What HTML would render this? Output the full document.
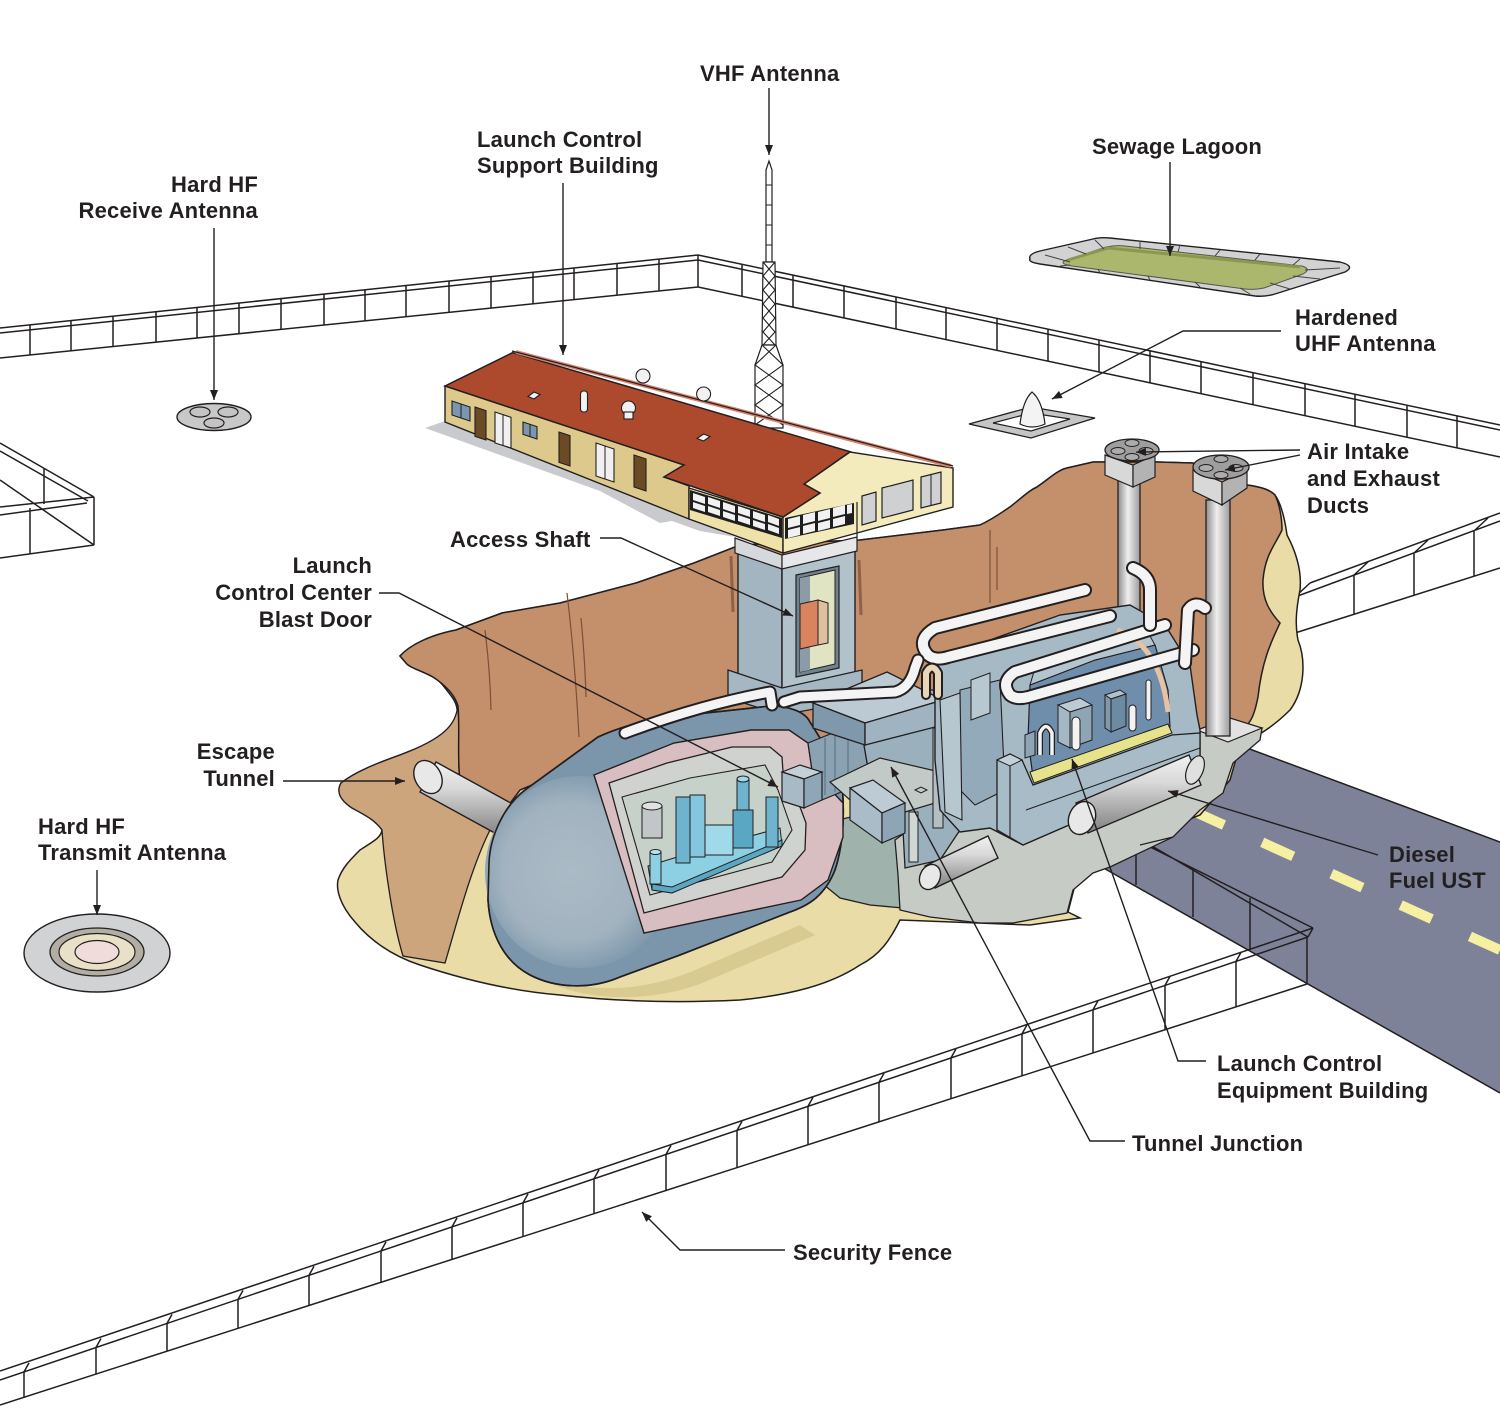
<!DOCTYPE html>
<html><head><meta charset="utf-8"><style>
html,body{margin:0;padding:0;background:#fff;}
svg{display:block;}
text{font-family:"Liberation Sans",Arial,sans-serif;font-weight:bold;font-size:22px;fill:#231f20;letter-spacing:0.2px;}
</style></head><body>
<svg width="1500" height="1428" viewBox="0 0 1500 1428" xmlns="http://www.w3.org/2000/svg">
<defs>
<linearGradient id="gv" x1="0" y1="0" x2="1" y2="0"><stop offset="0" stop-color="#8e8e8e"/><stop offset="0.45" stop-color="#efefef"/><stop offset="1" stop-color="#9c9c9c"/></linearGradient>
<linearGradient id="gh" x1="0" y1="0" x2="0" y2="1"><stop offset="0" stop-color="#f2f2f2"/><stop offset="0.35" stop-color="#d9d9d9"/><stop offset="1" stop-color="#808080"/></linearGradient>
<radialGradient id="gd" cx="0.45" cy="0.5" r="0.55"><stop offset="0" stop-color="#abbbc6"/><stop offset="0.65" stop-color="#a2b3bf"/><stop offset="1" stop-color="#7b96ab"/></radialGradient>
<marker id="ar" viewBox="0 0 10 8" refX="10" refY="4" markerWidth="10" markerHeight="8" orient="auto" markerUnits="userSpaceOnUse"><path d="M0,0 L10,4 L0,8 Z" fill="#231f20"/></marker>
</defs>

<!-- Back fences -->
<g stroke="#231f20" stroke-width="1.5" fill="none">
<path d="M0,328 L698,255 M0,333 L698,260 M0,358 L698,287"/>
<path d="M30,325V355 M71,320.6V350.8 M113,316.2V346.5 M156,311.7V342.1 M197,307.4V338 M239,303V333.7 M281,298.6V329.4 M324,294.1V325 M365,289.8V320.9 M406,285.5V316.7 M449,281V312.3 M491,276.7V308.1 M533,272.3V303.8 M574,268V299.6 M617,263.5V295.2 M659,259.1V291 M698,255V287"/>
<path d="M698,255 L1500,425 M698,260 L1500,430 M698,287 L1500,457"/>
<path d="M742,264.3V296.3 M793,275.1V307.1 M844,286V318 M896,297V329 M946,307.6V339.6 M997,318.4V350.4 M1048,329.2V361.2 M1099,340V372 M1150,350.8V382.8 M1201,361.6V393.6 M1253,372.7V404.7 M1305,383.7V415.7 M1355,394.3V426.3 M1407,405.3V437.3 M1457,415.9V447.9"/>
<path d="M0,443 L94,497 M0,451 L88,501 M0,480 L94,545 M0,507 L94,497 M0,515 L87,503 M0,558 L94,545 M94,497V545 M30,508V554 M44,468V504"/>
<path d="M1295,597 L1500,521 M1310,583 L1500,513 M1295,633 L1500,568 M1295,597V633 M1354,575V614 M1414,553V595 M1474,531V576 M1295,597 L1310,583 M1354,575 L1368,562 M1414,553 L1428,540 M1474,531 L1488,518"/>
</g>

<!-- Lagoon -->
<path d="M1030,259 Q1028,254 1040,251 L1093,239 Q1100,237 1110,238 L1340,262 Q1356,266 1345,272 L1275,294 Q1265,297 1255,296 L1040,264 Q1028,262 1030,259 Z" fill="#d2d2d2" stroke="#231f20" stroke-width="1.4"/>
<path d="M1064,261 L1106,247 Q1115,245 1125,246 L1302,266 Q1312,269 1303,274 L1264,288 Q1255,290 1245,289 L1072,266 Q1060,264 1064,261 Z" fill="#abb76d" stroke="#555" stroke-width="1"/>
<path d="M1068,260 L1108,248 L1300,267" stroke="#8a984f" stroke-width="3" fill="none"/>
<g stroke="#444" stroke-width="1"><path d="M1045,255 L1070,262 M1068,247 L1086,254 M1095,240 L1104,249 M1140,241 L1140,249 M1180,245 L1178,252 M1220,250 L1215,256 M1260,254 L1255,260 M1300,259 L1293,265 M1340,268 L1305,270 M1320,279 L1293,276 M1290,289 L1270,283 M1250,294 L1240,288 M1200,287 L1195,282 M1150,280 L1148,276 M1100,273 L1098,269 M1060,266 L1070,265"/></g>

<!-- Antennas -->
<ellipse cx="214" cy="417" rx="37" ry="13.5" fill="#c8c8c8" stroke="#231f20" stroke-width="1.4"/>
<ellipse cx="200" cy="412" rx="10" ry="5" fill="#c4c4c4" stroke="#231f20" stroke-width="1.2"/>
<ellipse cx="228" cy="412" rx="10" ry="5" fill="#c4c4c4" stroke="#231f20" stroke-width="1.2"/>
<ellipse cx="214" cy="423" rx="10" ry="5" fill="#c4c4c4" stroke="#231f20" stroke-width="1.2"/>

<polygon points="969,424 1031,407 1095,418 1031,438" fill="#c5c5c5" stroke="#231f20" stroke-width="1.3"/>
<polygon points="993,423 1031,413 1070,419 1031,431" fill="#fff" stroke="#231f20" stroke-width="1.2"/>
<path d="M1020,424 Q1023,400 1032,392 Q1042,400 1045,424 Q1032,430 1020,424 Z" fill="#f3f3f3" stroke="#231f20" stroke-width="1.2"/>

<ellipse cx="97" cy="953" rx="73" ry="39" fill="#d1d2d4" stroke="#231f20" stroke-width="1.4"/>
<ellipse cx="97" cy="952" rx="47" ry="24" fill="#b3aea3" stroke="#231f20" stroke-width="1.3"/>
<ellipse cx="97" cy="952" rx="38" ry="18.5" fill="#e9e0c8" stroke="#231f20" stroke-width="1.2"/>
<ellipse cx="97" cy="952" rx="22" ry="11.5" fill="#f1dcdc" stroke="#231f20" stroke-width="1.2"/>

<!-- Road -->
<polygon points="1212,735 1500,842 1500,1093 1100,866 1130,830" fill="#7e8299"/>
<path d="M1212,735 L1500,842 M1100,866 L1500,1093" stroke="#231f20" stroke-width="1.5" fill="none"/>
<line x1="1193" y1="811" x2="1500" y2="950" stroke="#f6f1a2" stroke-width="10" stroke-dasharray="34 42"/>
<g stroke="#231f20" stroke-width="1.5" fill="none">
<path d="M1122,833 L1313,928 M1138,838 L1308,937 M1136,842V885 M1193,869V917 M1250,898V950"/>
</g>

<!-- Excavation silhouette (pale tan) -->
<path d="M400,656 C410,645 430,635 456,630 L502,613 L560,603 L636,583 L694,563 L740,545 L860,540 L943,530 L980,525 C995,518 1005,510 1010,507 C1025,495 1030,490 1037,487 C1050,478 1058,470 1067,468 L1093,462 L1157,462 L1193,463 L1247,485 C1262,487 1270,490 1275,495 C1282,505 1285,520 1287,535 C1295,550 1302,570 1300,590 C1296,610 1295,625 1298,640 C1306,660 1305,690 1290,710 C1275,725 1260,735 1240,745 L1230,780 L1200,815 L1150,835 L1100,866 L1075,885 L1068,912 L1080,918 L1030,925 L900,920 C890,940 880,955 860,965 C830,985 790,995 740,1000 C680,1003 620,1002 560,995 C500,990 450,975 420,965 C390,955 370,940 355,922 C340,905 336,890 338,880 C342,868 350,860 360,850 C372,842 381,838 382,830 C375,820 365,815 352,808 C340,800 336,792 341,783 C355,772 375,764 400,755 C425,745 445,738 452,730 C460,715 458,705 452,697 C445,688 440,680 433,677 C420,670 410,668 406,663 Z" fill="#e9dca6" stroke="#231f20" stroke-width="1.5"/>
<!-- light brown cut face -->
<path d="M458,706 C455,725 445,738 400,755 C375,764 355,772 341,783 C336,792 340,800 352,808 C365,815 375,820 382,830 C384,860 392,920 403,956 L445,963 C455,930 470,870 490,830 C475,815 462,800 460,780 C457,760 460,730 458,706 Z" fill="#cda57d" stroke="#231f20" stroke-width="1.3"/>
<!-- dark brown earth -->
<path d="M400,656 C410,645 430,635 456,630 L502,613 L560,603 L636,583 L694,563 L740,545 L860,540 L943,530 L980,525 C995,518 1005,510 1010,507 C1025,495 1030,490 1037,487 C1050,478 1058,470 1067,468 L1093,462 L1157,462 L1193,463 L1247,485 C1262,487 1270,490 1275,495 C1280,505 1282,520 1282,530 C1275,545 1265,555 1263,580 C1262,600 1270,612 1280,623 C1272,640 1262,660 1258,697 C1255,712 1252,720 1247,725 L1100,760 L820,760 L640,740 L520,790 L490,830 C475,815 462,800 460,780 C457,760 460,730 458,706 C455,695 445,685 433,677 C420,670 410,668 406,663 Z" fill="#c3906b" stroke="#231f20" stroke-width="1.5"/>
<g stroke="#7a5038" stroke-width="1.2" fill="none">
<path d="M485,630 Q490,670 491,710 M567,593 Q575,660 579,737 M581,618 Q585,660 586,697 M990,530 L990,603 M997,547 L997,590"/>
</g>
<path d="M731,556 L733,612 M859,560 L861,615" stroke="#8d6248" stroke-width="3"/>

<!-- shadow under capsule -->
<path d="M505,950 C560,1000 640,995 700,968 L800,925 L815,935 L700,984 C640,1006 550,1004 505,950 Z" fill="#d9ca92"/>

<!-- Junction dark base -->
<polygon points="815,825 860,815 905,830 898,870 903,908 870,905 840,898 818,880" fill="#9fb2ac" stroke="#231f20" stroke-width="1.3"/>

<!-- Gray base -->
<path d="M895,840 L898,875 L900,910 L930,917 L980,923 L1013,923 L1067,913 L1073,890 L1093,873 L1110,867 L1173,837 L1200,810 L1223,793 L1233,763 L1260,740 L1262,728 L1235,722 L1100,760 L950,800 Z" fill="#c6ccc5" stroke="#231f20" stroke-width="1.3"/>
<path d="M1140,845 L1173,837" stroke="#231f20" stroke-width="1.2"/>

<!-- Air ducts -->
<rect x="1118" y="480" width="22" height="160" fill="url(#gv)" stroke="#231f20" stroke-width="1.3"/>
<polygon points="1197,730 1230,718 1262,728 1228,742" fill="#e2e2e2" stroke="#231f20" stroke-width="1.2"/>
<rect x="1206" y="500" width="24" height="236" fill="url(#gv)" stroke="#231f20" stroke-width="1.3"/>
<polygon points="1105,455 1133,465 1133,487 1105,475" fill="#d8d8d8" stroke="#231f20" stroke-width="1.2"/>
<polygon points="1133,465 1155,455 1155,477 1133,487" fill="#b3b3b3" stroke="#231f20" stroke-width="1.2"/>
<ellipse cx="1132" cy="450" rx="27" ry="11" fill="#9e9e9e" stroke="#231f20" stroke-width="1.3"/>
<g fill="#acacac" stroke="#231f20" stroke-width="1"><ellipse cx="1132" cy="443" rx="7" ry="3.5"/><ellipse cx="1118" cy="451" rx="7" ry="3.5"/><ellipse cx="1146" cy="451" rx="7" ry="3.5"/><ellipse cx="1132" cy="457" rx="7" ry="3.5"/></g>
<polygon points="1193,470 1222,482 1222,505 1193,491" fill="#d8d8d8" stroke="#231f20" stroke-width="1.2"/>
<polygon points="1222,482 1247,470 1247,488 1222,505" fill="#b3b3b3" stroke="#231f20" stroke-width="1.2"/>
<ellipse cx="1221" cy="467" rx="28" ry="12" fill="#9e9e9e" stroke="#231f20" stroke-width="1.3"/>
<g fill="#acacac" stroke="#231f20" stroke-width="1"><ellipse cx="1221" cy="459" rx="7" ry="3.5"/><ellipse cx="1206" cy="468" rx="7" ry="3.5"/><ellipse cx="1236" cy="468" rx="7" ry="3.5"/><ellipse cx="1221" cy="475" rx="7" ry="3.5"/></g>

<!-- VHF Tower -->
<g stroke="#231f20" stroke-width="1.2" fill="#fff">
<path d="M766,170 L769,161 L772,170 L772,262 L766,262 Z"/>
<polygon points="763,262 775,262 776,345 762,345"/>
<polygon points="762,345 776,345 783,365 783,428 755,428 755,365"/>
</g>
<g stroke="#231f20" stroke-width="1.1" fill="none">
<path d="M766,185H772 M766,205H772 M766,225H772 M766,245H772"/>
<path d="M763,262 L775,276 L763,290 L775,304 L763,318 L775,332 L763,345 M775,262 L763,276 L775,290 L763,304 L775,318 L763,332 L775,345"/>
<path d="M762,345 L783,365 L755,385 L783,405 L755,425 M776,345 L755,365 L783,385 L755,405 L783,425"/>
</g>

<!-- Access shaft -->
<polygon points="738,548 782,565 782,690 738,676" fill="#a2b5c1" stroke="#231f20" stroke-width="1.4"/>
<polygon points="782,565 855,548 855,676 782,690" fill="#b2c2cb" stroke="#231f20" stroke-width="1.4"/>
<polygon points="728,670 782,688 862,670 862,700 782,715 728,698" fill="#a5b7c2" stroke="#231f20" stroke-width="1.3"/>
<polygon points="735,538 782,555 782,569 735,553" fill="#d6d9db" stroke="#231f20" stroke-width="1.2"/>
<polygon points="782,555 857,537 857,551 782,569" fill="#e6e7e8" stroke="#231f20" stroke-width="1.2"/>
<polygon points="796,575 839,566 839,668 796,677" fill="#6e8290" stroke="#231f20" stroke-width="1.2"/>
<polygon points="800,578 835,570 835,664 800,672" fill="#e1e4c2" stroke="#231f20" stroke-width="1"/>
<polygon points="800,578 810,576 810,670 800,672" fill="#8c9ca7"/>
<polygon points="800,604 818,600 818,645 800,649" fill="#d9835f" stroke="#231f20" stroke-width="1"/>
<polygon points="818,600 828,603 828,643 818,645" fill="#dcc0a0" stroke="#231f20" stroke-width="1"/>

<!-- Building shadow -->
<polygon points="425,428 445,421 689,518 735,537 700,531 672,521 660,523 600,491" fill="#c9cacd"/>
<!-- Building -->
<polygon points="445,386 684,465 664,477 689,486 689,519 445,422" fill="#dcc98b" stroke="#231f20" stroke-width="1.4"/>
<polygon points="689,488 783,517 783,553 689,519" fill="#efe2a8" stroke="#231f20" stroke-width="1.4"/>
<polygon points="783,517 820,493 804,484 850,452 953,468 953,507 783,553" fill="#f4ebbd" stroke="#231f20" stroke-width="1.4"/>
<path d="M857,502 V537" stroke="#231f20" stroke-width="1.2"/>
<polygon points="690,490 782,518 782,538 690,510" fill="#1e1e1e"/>
<g fill="#f1f1f1">
<polygon points="693,493 705,497 705,504 693,500"/><polygon points="708,497 720,501 720,508 708,504"/><polygon points="723,502 735,506 735,513 723,509"/><polygon points="738,506 750,510 750,517 738,513"/><polygon points="753,511 765,515 765,522 753,518"/><polygon points="768,515 779,519 779,526 768,522"/>
<polygon points="693,502 705,506 705,512 693,508"/><polygon points="708,506 720,510 720,516 708,512"/><polygon points="723,511 735,515 735,521 723,517"/><polygon points="738,515 750,519 750,525 738,521"/><polygon points="753,520 765,524 765,530 753,526"/><polygon points="768,524 779,528 779,534 768,530"/>
</g>
<polygon points="785,518 854,503 854,524 785,539" fill="#1e1e1e"/>
<g fill="#f1f1f1">
<polygon points="788,519 800,516 800,525 788,528"/><polygon points="803,515 815,512 815,521 803,524"/><polygon points="818,512 830,509 830,518 818,521"/><polygon points="833,508 845,505 845,514 833,517"/><polygon points="847,505 852,504 852,513 847,514"/>
<polygon points="788,530 800,527 800,535 788,538"/><polygon points="803,526 815,523 815,531 803,534"/><polygon points="818,523 830,520 830,528 818,531"/><polygon points="833,519 845,516 845,524 833,527"/>
</g>
<polygon points="862,496 876,492 876,521 862,525" fill="#d0d1d3" stroke="#231f20" stroke-width="1.2"/>
<polygon points="882,488 913,480 913,510 882,518" fill="#cfd0d2" stroke="#231f20" stroke-width="1.2"/>
<polygon points="921,477 941,472 941,503 921,508" fill="#d0d1d3" stroke="#231f20" stroke-width="1.2"/>
<path d="M931,475 V506" stroke="#231f20" stroke-width="1"/>
<!-- roof -->
<polygon points="445,386 512.5,352.7 850,451.7 804,484 820,493 783,517 664,477 684,465" fill="#ad4a2e" stroke="#231f20" stroke-width="1.5"/>
<path d="M516,352 L951,466" stroke="#d6826d" stroke-width="4"/>
<path d="M512,351 L953,466" stroke="#231f20" stroke-width="1.2"/>
<!-- front wall doors/windows -->
<g stroke="#231f20" stroke-width="1.1">
<polygon points="452,401 470,407 470,421 452,415" fill="#7b97ad"/>
<polygon points="475,407 486,410.6 486,440 475,436.4" fill="#6b4a26"/>
<polygon points="495,412 511,417.3 511,448 495,443" fill="#f0f0f0"/>
<polygon points="523,422 537,426.6 537,439 523,434.4" fill="#7b97ad"/>
<polygon points="559,432 570,435.6 570,466 559,462.4" fill="#6b4a26"/>
<polygon points="596,443 614,449 614,482 596,476" fill="#f0f0f0"/>
<polygon points="634,455 646,459 646,491 634,487" fill="#6b4a26"/>
</g>
<path d="M461,404V418 M503,414.5V445.5 M530,424V437 M605,446V479" stroke="#231f20" stroke-width="1"/>
<!-- roof details -->
<g stroke="#231f20" stroke-width="1.1" fill="#f1f1f1">
<polygon points="534,392 540,394.5 534,399 528,396.5"/>
<polygon points="703.6,434 710,436.5 703.6,441 697,438.5"/>
<rect x="580.5" y="391" width="7" height="21" rx="3"/>
<circle cx="628.5" cy="408" r="7"/><rect x="624" y="412" width="9" height="7"/>
<circle cx="643" cy="376" r="7"/>
<circle cx="703.6" cy="394" r="7"/>
</g>

<!-- Escape tunnel -->
<polygon points="436,762 518,807 502,837 420,792" fill="url(#gh)" stroke="#231f20" stroke-width="1.4"/>
<ellipse cx="428" cy="777" rx="13" ry="17.5" transform="rotate(-29 428 777)" fill="#e8e8e8" stroke="#231f20" stroke-width="1.4"/>

<!-- Capsule -->
<path d="M489,863 C490,835 505,805 525,790 L598,737 C620,727 640,722 660,718 L770,706 C790,706 805,712 810,722 L840,770 C845,800 845,840 835,870 C825,895 810,905 790,912 L680,955 L620,977 C590,990 555,988 530,975 C505,962 490,935 488,900 Z" fill="#7b96ab" stroke="#231f20" stroke-width="1.6"/>
<ellipse cx="580" cy="872" rx="95" ry="96" fill="url(#gd)"/>
<path d="M489,863 C490,835 505,805 525,790 L598,737 C620,727 640,722 660,718 L770,706 C790,706 805,712 810,722 L840,770 C845,800 845,840 835,870 C825,895 810,905 790,912 L680,955 L620,977 C590,990 555,988 530,975 C505,962 490,935 488,900 Z" fill="none" stroke="#231f20" stroke-width="1.6"/>
<polygon points="594,775 674,743 751,730 789,730 808,743 812,770 843,803 843,837 828,880 801,900 644,933" fill="#d8bec0" stroke="#231f20" stroke-width="1.4"/>
<polygon points="609,783 667,763 732,747 770,747 782,757 783,772 800,807 806,823 805,850 782,877 644,913" fill="#d0d2cf" stroke="#231f20" stroke-width="1.3"/>
<polygon points="622,797 690,778 765,765 778,790 792,830 772,862 650,895" fill="#c6d2c9" stroke="#231f20" stroke-width="1.1"/>
<!-- equipment -->
<g stroke="#231f20" stroke-width="1">
<polygon points="648,866 700,850 780,828 782,845 672,893 652,890" fill="#8dd0e3"/>
<polygon points="652,884 672,887 782,840 782,846 672,893 652,890" fill="#5aa7c4"/>
<rect x="642" y="806" width="20" height="32" fill="#c2c6c8"/><ellipse cx="652" cy="806" rx="10" ry="4" fill="#dfe1e2"/>
<rect x="676" y="797" width="14" height="66" fill="#6fb4cf"/>
<rect x="690" y="795" width="15" height="62" fill="#86c6dc"/>
<rect x="705" y="825" width="28" height="30" fill="#9fd9ea"/>
<rect x="737" y="779" width="12" height="56" fill="#6fb4cf"/><ellipse cx="743" cy="779" rx="6" ry="3" fill="#9fd9ea"/>
<rect x="733" y="810" width="20" height="38" fill="#5aa7c4"/>
<rect x="766" y="797" width="12" height="50" fill="#6fb4cf"/>
<rect x="650" y="852" width="11" height="32" fill="#8dd0e3"/><ellipse cx="655.5" cy="852" rx="5.5" ry="2.5" fill="#b5e3ef"/>
</g>

<!-- Junction tunnel and blocks -->
<polygon points="808,743 860,722 870,780 822,800 812,770" fill="#8aa2b2" stroke="#231f20" stroke-width="1.2"/>
<path d="M825,738V795 M835,734V792 M848,728V787" stroke="#6f8899" stroke-width="2"/>
<g stroke="#231f20" stroke-width="1.2">
<polygon points="782,772 800,765 822,772 804,779" fill="#c2d0d8"/>
<polygon points="782,772 804,779 804,808 782,801" fill="#a7bac6"/>
<polygon points="804,779 822,772 822,800 804,808" fill="#8ea6b6"/>
</g>
<!-- junction mass -->
<polygon points="860,722 887,690 943,690 960,700 960,830 940,860 905,868 903,830 860,815 870,780" fill="#9bb0bd" stroke="#231f20" stroke-width="1.3"/>
<polygon points="813,703 887,672 943,700 865,723" fill="#bccbd3" stroke="#231f20" stroke-width="1.3"/>
<polygon points="813,703 865,723 865,745 813,728" fill="#7f98ab" stroke="#231f20" stroke-width="1.3"/>
<polygon points="865,723 943,700 943,725 865,745" fill="#9fb3c0" stroke="#231f20" stroke-width="1.3"/>
<polygon points="830,782 880,758 940,772 945,800 905,812 850,800" fill="#c2cac8" stroke="#231f20" stroke-width="1.2"/>
<polygon points="915,790 921,787 927,790 921,793" fill="none" stroke="#231f20" stroke-width="1"/>
<polygon points="850,788 873,780 905,803 882,813" fill="#bdccd4" stroke="#231f20" stroke-width="1.2"/>
<polygon points="850,788 882,813 882,843 850,820" fill="#a9bcc8" stroke="#231f20" stroke-width="1.2"/>
<polygon points="882,813 905,803 905,833 882,843" fill="#8ea5b5" stroke="#231f20" stroke-width="1.2"/>
<rect x="909" y="812" width="9" height="50" fill="#d0d6d3" stroke="#231f20" stroke-width="1"/>
<rect x="933" y="728" width="10" height="100" fill="#b3bfc2" stroke="#231f20" stroke-width="1"/>

<!-- LCEB -->
<polygon points="935,665 990,640 1060,615 1130,605 1165,625 1190,665 1197,715 1200,730 1200,768 1023,845 990,828 960,832 940,810 935,760" fill="#a6bac6" stroke="#231f20" stroke-width="1.4"/>
<polygon points="1030,685 1095,660 1155,645 1168,690 1170,727 1033,777 1028,740" fill="#6f8eab" stroke="#231f20" stroke-width="1.2"/>
<polygon points="1030,685 1035,668 1100,645 1150,636 1155,645 1095,660" fill="#b3c5cf" stroke="#231f20" stroke-width="1"/>
<path d="M1117,630 Q1160,645 1168,712" stroke="#e7c2a3" stroke-width="5" fill="none"/>
<polygon points="960,690 1000,680 1005,790 975,805 960,790" fill="#93aabb" stroke="#231f20" stroke-width="1.1"/>
<polygon points="940,700 960,693 962,820 945,812" fill="#b7c7d0" stroke="#231f20" stroke-width="1.1"/>
<polygon points="971,680 990,673 990,713 971,720" fill="#b7c8d1" stroke="#231f20" stroke-width="1"/>
<polygon points="1030,772 1168,724 1172,733 1034,783" fill="#e6e38c" stroke="#231f20" stroke-width="1"/>
<polygon points="997,760 1010,754 1022,760 1033,785 1172,735 1200,733 1200,768 1023,845 997,830" fill="#a8bcc7" stroke="#231f20" stroke-width="1.3"/>
<polygon points="997,760 1010,754 1022,760 1010,766" fill="#c2d1d9" stroke="#231f20" stroke-width="1"/>
<path d="M1026,810 L1200,748 M1010,766 V838" stroke="#231f20" stroke-width="1.1"/>
<g stroke="#231f20" stroke-width="1">
<polygon points="1058,705 1080,698 1092,705 1070,712" fill="#bccbd3"/>
<polygon points="1058,705 1070,712 1070,748 1058,742" fill="#a3b7c4"/>
<polygon points="1070,712 1092,705 1092,740 1070,748" fill="#8ea5b5"/>
<polygon points="1105,695 1120,690 1126,694 1111,699" fill="#b0c2cc"/>
<polygon points="1105,695 1111,699 1111,732 1105,728" fill="#7f98ab"/>
<polygon points="1111,699 1126,694 1126,726 1111,732" fill="#6d8aa3"/>
<polygon points="1025,735 1035,731 1035,755 1025,758" fill="#8ea5b5"/>
<rect x="1072" y="717" width="8" height="33" rx="4" fill="#f3f3f3"/>
<rect x="1129" y="705" width="7" height="26" rx="3.5" fill="#f3f3f3"/>
<rect x="1146" y="680" width="5" height="40" rx="2.5" fill="#f3f3f3"/>
<path d="M1040,755 V733 Q1046,720 1052,733 V755" fill="none" stroke="#231f20" stroke-width="6"/>
<path d="M1040,755 V733 Q1046,720 1052,733 V755" fill="none" stroke="#f3f3f3" stroke-width="3.5"/>
</g>

<!-- White pipes -->
<g fill="none" stroke-linecap="round" stroke-linejoin="round">
<path d="M1085,590 L935,628 Q915,640 928,655 Q935,661 948,657 L1110,616" stroke="#231f20" stroke-width="14"/>
<path d="M1085,590 L935,628 Q915,640 928,655 Q935,661 948,657 L1110,616" stroke="#f4f4f4" stroke-width="10"/>
<path d="M1165,625 L1015,672 Q1000,682 1010,695 Q1016,700 1028,697 L1193,650" stroke="#231f20" stroke-width="14"/>
<path d="M1165,625 L1015,672 Q1000,682 1010,695 Q1016,700 1028,697 L1193,650" stroke="#f4f4f4" stroke-width="10"/>
<path d="M1133,568 Q1150,575 1150,590 L1150,625" stroke="#231f20" stroke-width="14"/>
<path d="M1133,568 Q1150,575 1150,590 L1150,625" stroke="#f4f4f4" stroke-width="10"/>
<path d="M1185,663 L1188,610 Q1195,600 1205,608" stroke="#231f20" stroke-width="14"/>
<path d="M1185,663 L1188,610 Q1195,600 1205,608" stroke="#f4f4f4" stroke-width="10"/>
<path d="M625,733 Q700,705 770,692 L772,705" stroke="#231f20" stroke-width="13"/>
<path d="M625,733 Q700,705 770,692 L772,705" stroke="#f4f4f4" stroke-width="9"/>
<path d="M784,702 L800,697 L895,692 Q910,688 915,668 L918,660" stroke="#231f20" stroke-width="13"/>
<path d="M784,702 L800,697 L895,692 Q910,688 915,668 L918,660" stroke="#f4f4f4" stroke-width="9"/>
<path d="M926,695 L926,673 Q932,662 938,673 L938,695" stroke="#231f20" stroke-width="10"/>
<path d="M926,695 L926,673 Q932,662 938,673 L938,695" stroke="#e8d6b8" stroke-width="6"/>
</g>

<!-- Diesel tank and small cylinder -->
<polygon points="1076,803 1189,755 1201,785 1088,833" fill="url(#gh)" stroke="#231f20" stroke-width="1.4"/>
<ellipse cx="1195" cy="770" rx="8" ry="15" transform="rotate(23 1195 770)" fill="#e0e0e0" stroke="#231f20" stroke-width="1.2"/>
<ellipse cx="1082" cy="818" rx="13" ry="17" transform="rotate(23 1082 818)" fill="#e8e8e8" stroke="#231f20" stroke-width="1.4"/>
<polygon points="925,866 988,836 998,858 935,888" fill="url(#gh)" stroke="#231f20" stroke-width="1.4"/>
<ellipse cx="930" cy="877" rx="10" ry="13" transform="rotate(25 930 877)" fill="#e8e8e8" stroke="#231f20" stroke-width="1.4"/>

<!-- Front fence -->
<g stroke="#231f20" stroke-width="1.5" fill="none">
<path d="M0,1380 L1308,937 M0,1371 L1313,928 M0,1405 L1307,984 M1308,937 L1313,928"/>
<path d="M1307,937V984 M1236,961.4V1006.9 M1165,985.4V1029.7 M1093,1009.8V1052.9 M1022,1033.9V1075.8 M951,1057.9V1098.7 M879,1082.3V1121.9 M808,1106.3V1144.7 M737,1130.4V1167.6 M666,1154.4V1190.5 M594,1178.8V1213.7 M523,1202.9V1236.5 M452,1226.9V1259.4 M381,1250.9V1282.3 M309,1275.3V1305.5 M238,1299.4V1328.3 M167,1323.4V1351.2 M96,1347.5V1374.1 M24,1371.9V1397.3"/>
<path d="M1236,961.4 l5,-9 M1165,985.4 l5,-9 M1093,1009.8 l5,-9 M1022,1033.9 l5,-9 M951,1057.9 l5,-9 M879,1082.3 l5,-9 M808,1106.3 l5,-9 M737,1130.4 l5,-9 M666,1154.4 l5,-9 M594,1178.8 l5,-9 M523,1202.9 l5,-9 M452,1226.9 l5,-9 M381,1250.9 l5,-9 M309,1275.3 l5,-9 M238,1299.4 l5,-9 M167,1323.4 l5,-9 M96,1347.5 l5,-9 M24,1371.9 l5,-9"/>
</g>

<!-- Leader lines -->
<g stroke="#231f20" stroke-width="1.4" fill="none">
<path d="M769,88 L769,155" marker-end="url(#ar)"/>
<path d="M563,183 L563,355" marker-end="url(#ar)"/>
<path d="M214,228 L214,400" marker-end="url(#ar)"/>
<path d="M1170,162 L1170,256" marker-end="url(#ar)"/>
<path d="M1281,331 L1183,331 L1052,399" marker-end="url(#ar)"/>
<path d="M1300,450 L1136,452" marker-end="url(#ar)"/>
<path d="M1300,455 L1225,470" marker-end="url(#ar)"/>
<path d="M600,538 L621,538 L793,616" marker-end="url(#ar)"/>
<path d="M379,593 L399,593 L778,787" marker-end="url(#ar)"/>
<path d="M283,781 L405,781" marker-end="url(#ar)"/>
<path d="M97,870 L97,915" marker-end="url(#ar)"/>
<path d="M1378,855 L1168,791" marker-end="url(#ar)"/>
<path d="M1206,1061 L1178,1061 L1072,759" marker-end="url(#ar)"/>
<path d="M1125,1141 L1090,1141 L891,767" marker-end="url(#ar)"/>
<path d="M785,1250 L680,1250 L642,1212" marker-end="url(#ar)"/>
</g>

<!-- Labels -->
<text x="700" y="81">VHF Antenna</text>
<text x="477" y="147">Launch Control</text>
<text x="477" y="173">Support Building</text>
<text x="258" y="192" text-anchor="end">Hard HF</text>
<text x="258" y="218" text-anchor="end">Receive Antenna</text>
<text x="1092" y="154">Sewage Lagoon</text>
<text x="1295" y="325">Hardened</text>
<text x="1295" y="351">UHF Antenna</text>
<text x="1307" y="459">Air Intake</text>
<text x="1307" y="486">and Exhaust</text>
<text x="1307" y="513">Ducts</text>
<text x="450" y="547">Access Shaft</text>
<text x="372" y="573" text-anchor="end">Launch</text>
<text x="372" y="600" text-anchor="end">Control Center</text>
<text x="372" y="627" text-anchor="end">Blast Door</text>
<text x="275" y="759" text-anchor="end">Escape</text>
<text x="275" y="786" text-anchor="end">Tunnel</text>
<text x="38" y="834">Hard HF</text>
<text x="38" y="860">Transmit Antenna</text>
<text x="1389" y="862">Diesel</text>
<text x="1389" y="888">Fuel UST</text>
<text x="1217" y="1071">Launch Control</text>
<text x="1217" y="1098">Equipment Building</text>
<text x="1132" y="1151">Tunnel Junction</text>
<text x="793" y="1260">Security Fence</text>
</svg>
</body></html>
